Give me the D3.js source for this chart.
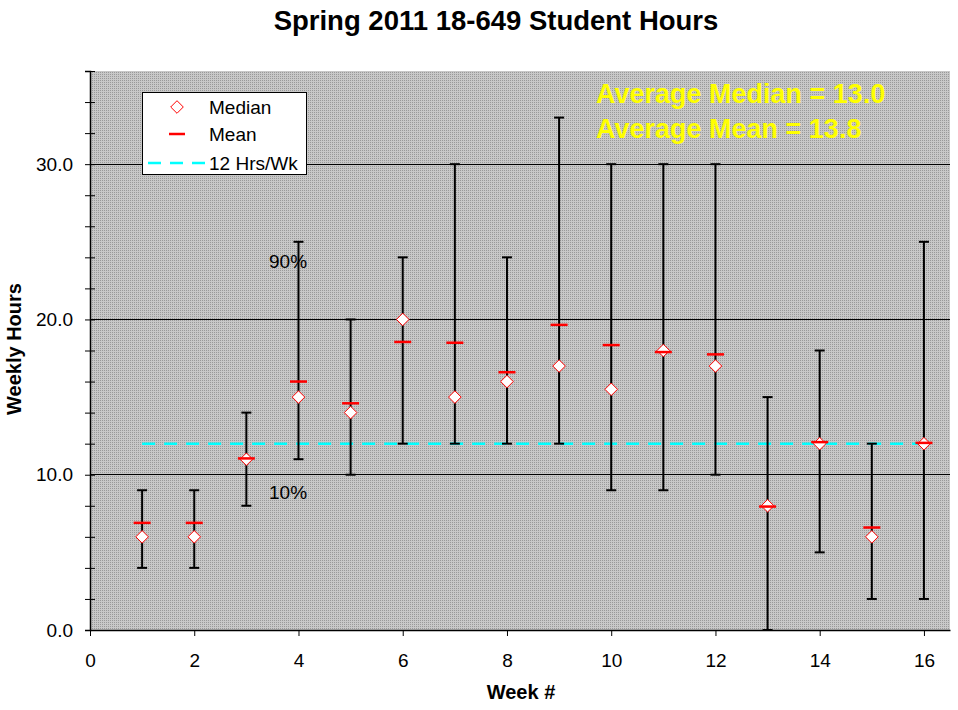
<!DOCTYPE html>
<html>
<head>
<meta charset="utf-8">
<script src="https://cdn.jsdelivr.net/npm/d3@7"></script>
<style>
  html, body { margin: 0; padding: 0; background: #fff; }
  svg { display: block; font-family: "Liberation Sans", Arial, sans-serif; }
</style>
</head>
<body>
<svg id="chart" width="958" height="710"></svg>
<script>
// Weekly hours per student, one entry per week of the semester
const weeks   = [1, 2, 3, 4, 5, 6, 7, 8, 9, 10, 11, 12, 13, 14, 15, 16];
const medians = [6, 6, 11, 15, 14, 20, 15, 16, 17, 15.5, 18, 17, 8, 12, 6, 12];
const means   = [6.9, 6.9, 11.05, 16.0, 14.6, 18.55, 18.5, 16.6, 19.65, 18.35, 17.9, 17.75, 7.95, 12.1, 6.6, 12.05];
const p10     = [4, 4, 8, 11, 10, 12, 12, 12, 12, 9, 9, 10, 0, 5, 2, 2];
const p90     = [9, 9, 14, 25, 20, 24, 30, 24, 33, 30, 30, 30, 15, 18, 12, 25];
const target  = 12;   // 12 hours per week reference line
const xTicks  = [0, 2, 4, 6, 8, 10, 12, 14, 16];
const yMajor  = [0, 10, 20, 30];

const svg = d3.select("#chart");
const plotL = 90, plotR = 950, plotT = 71, plotB = 630;

const x = d3.scaleLinear().domain([0, 16.5]).range([plotL, plotR]);
const y = d3.scaleLinear().domain([0, 36]).range([plotB, plotT]);

// dotted gray plot background
const defs = svg.append("defs");
const pat = defs.append("pattern").attr("id", "dots")
  .attr("width", 2).attr("height", 2).attr("patternUnits", "userSpaceOnUse");
pat.append("rect").attr("width", 2).attr("height", 2).attr("fill", "#c8c8c8");
pat.append("rect").attr("width", 1).attr("height", 1).attr("fill", "#999999");

svg.append("rect")
  .attr("x", plotL).attr("y", plotT)
  .attr("width", plotR - plotL).attr("height", plotB - plotT)
  .attr("fill", "url(#dots)");

// major gridlines
svg.append("g").selectAll("line").data(yMajor.filter(d => d > 0)).join("line")
  .attr("x1", plotL).attr("x2", plotR)
  .attr("y1", d => y(d)).attr("y2", d => y(d))
  .attr("stroke", "#000").attr("stroke-width", 1)
  .attr("shape-rendering", "crispEdges");

// percentile labels
svg.append("text").attr("x", 269).attr("y", 268)
  .attr("font-size", 19).attr("fill", "#000").text("90%");
svg.append("text").attr("x", 269).attr("y", 499)
  .attr("font-size", 19).attr("fill", "#000").text("10%");

// 12 hrs/wk target line
svg.append("line")
  .attr("x1", x(1)).attr("x2", x(16))
  .attr("y1", y(target)).attr("y2", y(target))
  .attr("stroke", "#00ffff").attr("stroke-width", 2.5)
  .attr("stroke-dasharray", "13,9");

// 10%-90% range bars
const rows = weeks.map((w, i) => ({ w, med: medians[i], mean: means[i], lo: p10[i], hi: p90[i] }));
const bars = svg.append("g").attr("stroke", "#000").attr("stroke-width", 2);
bars.selectAll(".stem").data(rows).join("line").attr("class", "stem")
  .attr("x1", d => x(d.w)).attr("x2", d => x(d.w))
  .attr("y1", d => y(d.lo)).attr("y2", d => y(d.hi));
bars.selectAll(".capHi").data(rows).join("line").attr("class", "capHi")
  .attr("x1", d => x(d.w) - 5).attr("x2", d => x(d.w) + 5)
  .attr("y1", d => y(d.hi)).attr("y2", d => y(d.hi));
bars.selectAll(".capLo").data(rows).join("line").attr("class", "capLo")
  .attr("x1", d => x(d.w) - 5).attr("x2", d => x(d.w) + 5)
  .attr("y1", d => y(d.lo)).attr("y2", d => y(d.lo));

// median diamonds
const diamond = "M0,-6.3L6.3,0L0,6.3L-6.3,0Z";
svg.append("g").selectAll("path").data(rows).join("path")
  .attr("d", diamond)
  .attr("transform", d => `translate(${x(d.w)},${y(d.med)})`)
  .attr("fill", "#fff").attr("stroke", "#ff0000").attr("stroke-width", 1);

// mean dashes
svg.append("g").selectAll("line").data(rows).join("line")
  .attr("x1", d => x(d.w) - 8.5).attr("x2", d => x(d.w) + 8.5)
  .attr("y1", d => y(d.mean)).attr("y2", d => y(d.mean))
  .attr("stroke", "#ff0000").attr("stroke-width", 2.5);

// axes
const yAxis = d3.axisLeft(y)
  .tickValues(d3.range(0, 37, 2))
  .tickSize(5)
  .tickFormat(d => yMajor.includes(d) ? d3.format(".1f")(d) : "");
const gy = svg.append("g").attr("transform", `translate(${plotL},0)`).call(yAxis);
gy.selectAll(".tick line").attr("x1", 5).attr("stroke", "#000");
gy.select(".domain").attr("stroke", "#000").attr("stroke-width", 1.5);
gy.selectAll(".tick text").attr("font-size", 19).attr("fill", "#000")
  .attr("font-family", "Liberation Sans, Arial, sans-serif").attr("x", -17);

const xAxis = d3.axisBottom(x).tickValues(xTicks).tickSize(6).tickSizeOuter(0).tickFormat(d3.format("d"));
const gx = svg.append("g").attr("transform", `translate(0,${plotB})`).call(xAxis);
gx.select(".domain").attr("stroke", "#000").attr("stroke-width", 1.5);
gx.selectAll(".tick line").attr("stroke", "#000");
gx.selectAll(".tick text").attr("font-size", 19).attr("fill", "#000")
  .attr("font-family", "Liberation Sans, Arial, sans-serif").attr("dy", null).attr("y", 37);

// titles
svg.append("text").attr("x", 496).attr("y", 30).attr("text-anchor", "middle")
  .attr("font-size", 27.5).attr("font-weight", "bold").text("Spring 2011 18-649 Student Hours");
svg.append("text").attr("x", 521).attr("y", 699).attr("text-anchor", "middle")
  .attr("font-size", 20).attr("font-weight", "bold").text("Week #");
svg.append("text").attr("transform", "translate(21,349) rotate(-90)").attr("text-anchor", "middle")
  .attr("font-size", 20).attr("font-weight", "bold").text("Weekly Hours");

// averages
const fmt = d3.format(".1f");
svg.append("text").attr("x", 596).attr("y", 103)
  .attr("font-size", 27).attr("font-weight", "bold").attr("fill", "#ffff00")
  .text(`Average Median = ${fmt(d3.mean(medians))}`);
svg.append("text").attr("x", 596).attr("y", 138)
  .attr("font-size", 27).attr("font-weight", "bold").attr("fill", "#ffff00")
  .text(`Average Mean = ${fmt(d3.mean(means))}`);

// legend
const lg = svg.append("g");
lg.append("rect").attr("x", 142.5).attr("y", 92.5).attr("width", 164).attr("height", 82)
  .attr("fill", "#fff").attr("stroke", "#000").attr("stroke-width", 1);
lg.append("path").attr("d", diamond).attr("transform", "translate(177,107)")
  .attr("fill", "#fff").attr("stroke", "#ff0000").attr("stroke-width", 1);
lg.append("line").attr("x1", 169).attr("x2", 185).attr("y1", 134).attr("y2", 134)
  .attr("stroke", "#ff0000").attr("stroke-width", 2.5);
lg.append("line").attr("x1", 148).attr("x2", 205).attr("y1", 163).attr("y2", 163)
  .attr("stroke", "#00ffff").attr("stroke-width", 2.5).attr("stroke-dasharray", "13,9");
[["Median", 114], ["Mean", 141], ["12 Hrs/Wk", 170]].forEach(([t, yy]) => {
  lg.append("text").attr("x", 209).attr("y", yy).attr("font-size", 19).attr("fill", "#000").text(t);
});
</script>
</body>
</html>
